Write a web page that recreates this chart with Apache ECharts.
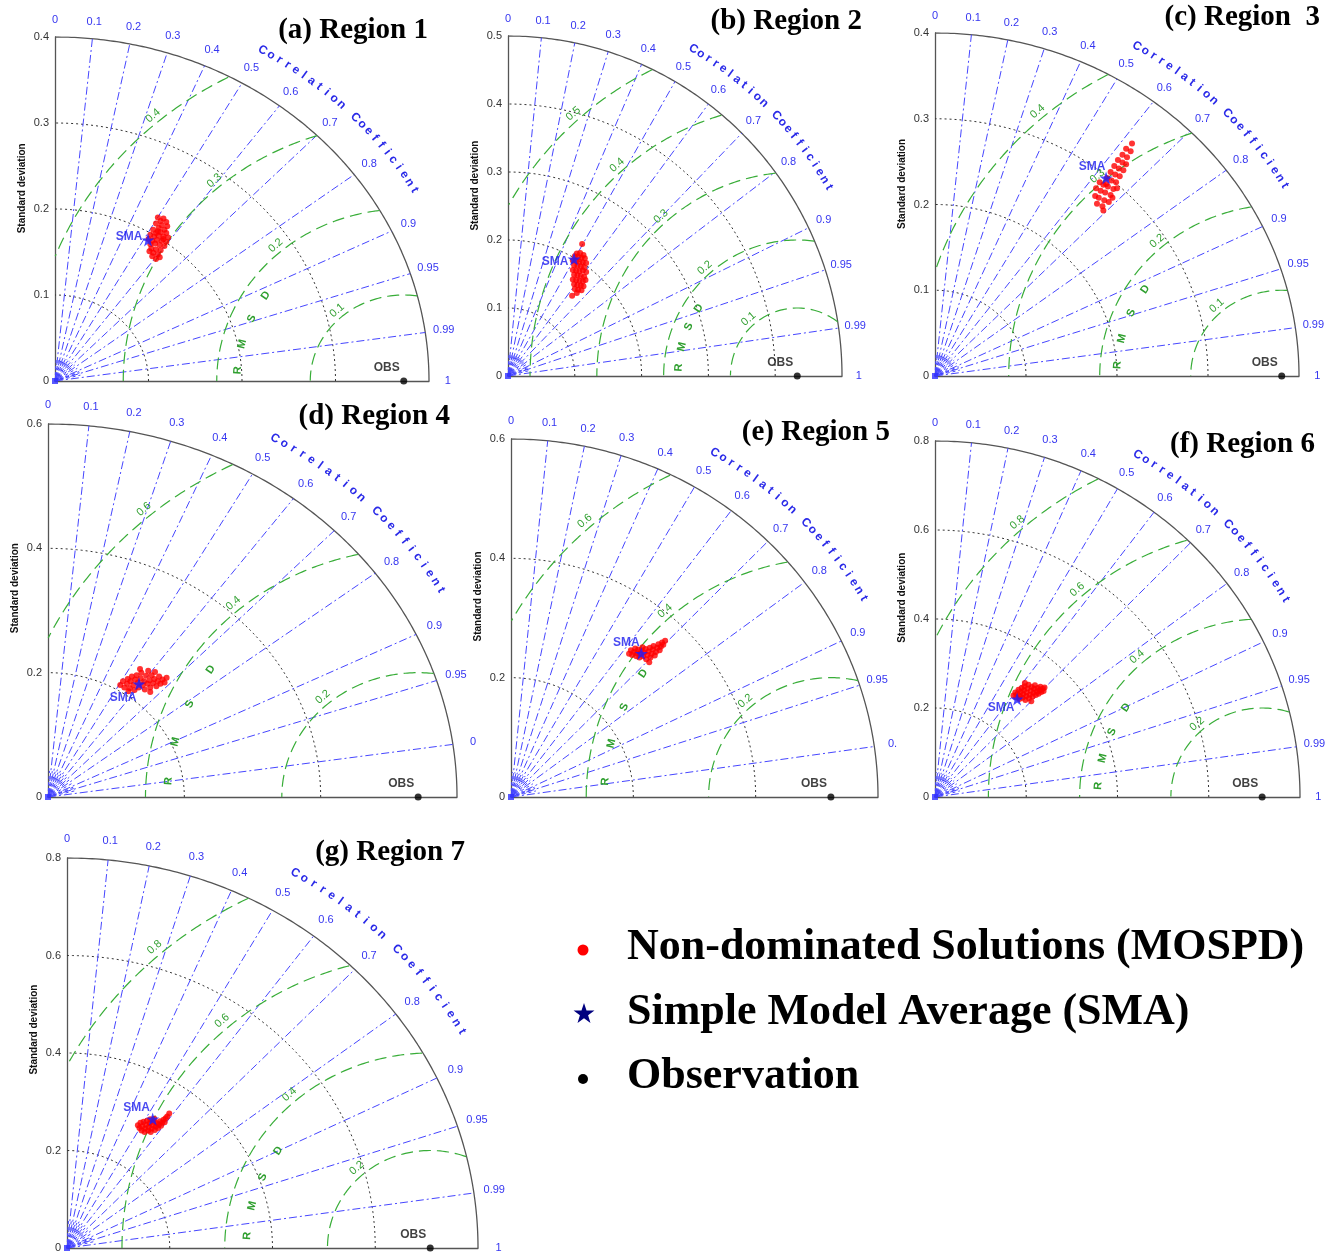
<!DOCTYPE html>
<html><head><meta charset="utf-8">
<script src="https://cdn.jsdelivr.net/npm/echarts@6/dist/echarts.min.js"></script>
<style>html,body{margin:0;padding:0;background:#fff}#c{width:1333px;height:1258px}</style>
</head><body><div id="c"></div><script>
// ---------------- DATA ----------------
const panelTitles = ['(a) Region 1', '(b) Region 2', '(c) Region  3', '(d) Region 4', '(e) Region 5', '(f) Region 6', '(g) Region 7'];
const stdMax = [0.4, 0.5, 0.4, 0.6, 0.6, 0.8, 0.8];
const stdInterval = [0.1, 0.1, 0.1, 0.2, 0.2, 0.2, 0.2];
const obsStd = [0.373, 0.433, 0.381, 0.543, 0.523, 0.717, 0.707];
const rmsLevels = [
  [0.1, 0.2, 0.3, 0.4], [0.1, 0.2, 0.3, 0.4, 0.5], [0.1, 0.2, 0.3, 0.4],
  [0.2, 0.4, 0.6], [0.2, 0.4, 0.6], [0.2, 0.4, 0.6, 0.8], [0.2, 0.4, 0.6, 0.8]
];
const corrTicks = [0, 0.1, 0.2, 0.3, 0.4, 0.5, 0.6, 0.7, 0.8, 0.9, 0.95, 0.99, 1];
const corrTickLabels = ['0', '0.1', '0.2', '0.3', '0.4', '0.5', '0.6', '0.7', '0.8', '0.9', '0.95', '0.99', '1'];
// labels partly cut off by the neighbouring panel in the original figure
const corrTickLabelsCut = { 3: { '0.99': '0', '1': '' }, 4: { '0.99': '0.', '1': '' } };
const corrMinorTicks = [0.05, 0.15, 0.25, 0.35, 0.45, 0.55, 0.65, 0.75, 0.85, 0.92, 0.94, 0.97];
// SMA point per region: [x, y] components in std-dev units
const smaPoints = [[0.0995, 0.164], [0.0988, 0.172], [0.188, 0.231], [0.1335, 0.182], [0.213, 0.2407], [0.18, 0.22], [0.1668, 0.2646]];
// Non-dominated solutions (MOSPD) per region: [x, y]
const mospdRegion1 = [[0.110,0.190],[0.116,0.189],[0.113,0.186],[0.119,0.185],[0.108,0.183],[0.114,0.181],[0.120,0.180],[0.111,0.178],[0.117,0.176],[0.105,0.176],[0.108,0.172],[0.113,0.173],[0.119,0.172],[0.102,0.170],[0.106,0.168],[0.111,0.169],[0.116,0.168],[0.121,0.167],[0.100,0.165],[0.104,0.163],[0.109,0.164],[0.114,0.163],[0.119,0.162],[0.102,0.159],[0.107,0.160],[0.112,0.158],[0.117,0.157],[0.103,0.154],[0.108,0.153],[0.113,0.152],[0.105,0.149],[0.110,0.147],[0.104,0.145],[0.108,0.142],[0.112,0.144],[0.101,0.151],[0.116,0.165],[0.110,0.174]];
const mospdRegion2 = [[0.111,0.194],[0.103,0.180],[0.108,0.181],[0.113,0.178],[0.100,0.176],[0.105,0.175],[0.110,0.174],[0.115,0.173],[0.097,0.170],[0.102,0.169],[0.107,0.168],[0.112,0.167],[0.117,0.166],[0.099,0.163],[0.104,0.162],[0.109,0.161],[0.114,0.160],[0.097,0.156],[0.102,0.155],[0.107,0.154],[0.112,0.155],[0.117,0.153],[0.099,0.149],[0.104,0.148],[0.109,0.147],[0.114,0.146],[0.097,0.142],[0.102,0.141],[0.107,0.140],[0.112,0.139],[0.116,0.141],[0.099,0.135],[0.104,0.134],[0.109,0.133],[0.113,0.132],[0.100,0.128],[0.105,0.127],[0.110,0.126],[0.103,0.122],[0.096,0.118]];
const mospdRegion3 = [[0.178,0.201],[0.184,0.198],[0.180,0.208],[0.186,0.205],[0.191,0.203],[0.182,0.216],[0.187,0.214],[0.193,0.211],[0.177,0.219],[0.185,0.223],[0.190,0.221],[0.196,0.218],[0.181,0.226],[0.189,0.231],[0.194,0.228],[0.199,0.226],[0.193,0.238],[0.198,0.235],[0.203,0.233],[0.197,0.245],[0.202,0.242],[0.207,0.240],[0.201,0.252],[0.206,0.249],[0.210,0.247],[0.206,0.258],[0.211,0.255],[0.210,0.265],[0.215,0.262],[0.2165,0.271],[0.176,0.210],[0.185,0.193],[0.195,0.208],[0.200,0.219],[0.188,0.224]];
const mospdRegion4 = [[0.106,0.180],[0.110,0.186],[0.112,0.176],[0.116,0.182],[0.117,0.190],[0.120,0.175],[0.121,0.186],[0.123,0.194],[0.125,0.180],[0.127,0.172],[0.128,0.189],[0.130,0.196],[0.132,0.184],[0.133,0.176],[0.136,0.191],[0.137,0.200],[0.139,0.180],[0.141,0.186],[0.142,0.173],[0.144,0.195],[0.146,0.182],[0.147,0.203],[0.149,0.188],[0.150,0.176],[0.152,0.196],[0.154,0.183],[0.156,0.190],[0.157,0.201],[0.159,0.178],[0.161,0.186],[0.163,0.194],[0.165,0.182],[0.168,0.189],[0.171,0.184],[0.174,0.192],[0.135,0.206],[0.118,0.170],[0.150,0.169]];
const mospdRegion5 = [[0.193,0.240],[0.196,0.246],[0.198,0.238],[0.201,0.243],[0.203,0.249],[0.205,0.236],[0.206,0.241],[0.208,0.247],[0.210,0.234],[0.211,0.240],[0.213,0.246],[0.215,0.251],[0.216,0.236],[0.218,0.242],[0.220,0.248],[0.221,0.231],[0.223,0.238],[0.225,0.244],[0.227,0.250],[0.228,0.234],[0.230,0.240],[0.232,0.247],[0.233,0.253],[0.235,0.237],[0.237,0.243],[0.239,0.250],[0.241,0.256],[0.243,0.246],[0.245,0.252],[0.247,0.259],[0.249,0.255],[0.252,0.262],[0.226,0.226]];
const mospdRegion6 = [[0.172,0.228],[0.176,0.235],[0.178,0.224],[0.181,0.231],[0.183,0.241],[0.185,0.220],[0.186,0.227],[0.188,0.236],[0.190,0.245],[0.192,0.223],[0.193,0.231],[0.195,0.240],[0.196,0.249],[0.198,0.218],[0.200,0.227],[0.201,0.235],[0.203,0.244],[0.205,0.252],[0.206,0.222],[0.208,0.230],[0.210,0.239],[0.212,0.247],[0.214,0.226],[0.216,0.234],[0.217,0.243],[0.219,0.251],[0.221,0.229],[0.223,0.237],[0.225,0.245],[0.227,0.232],[0.229,0.240],[0.231,0.248],[0.233,0.236],[0.236,0.243],[0.238,0.238],[0.240,0.246],[0.197,0.256],[0.211,0.215]];
const mospdRegion7 = [[0.138,0.252],[0.141,0.246],[0.143,0.257],[0.145,0.241],[0.147,0.250],[0.149,0.259],[0.151,0.238],[0.152,0.245],[0.154,0.253],[0.156,0.261],[0.158,0.241],[0.159,0.248],[0.161,0.256],[0.163,0.238],[0.165,0.245],[0.167,0.252],[0.169,0.259],[0.171,0.242],[0.173,0.249],[0.175,0.256],[0.177,0.246],[0.179,0.253],[0.181,0.260],[0.183,0.251],[0.185,0.257],[0.188,0.263],[0.190,0.258],[0.192,0.266],[0.195,0.270],[0.199,0.276],[0.170,0.265],[0.162,0.264]];
const mospdAll = [mospdRegion1, mospdRegion2, mospdRegion3, mospdRegion4, mospdRegion5, mospdRegion6, mospdRegion7];
const legendNames = ['Non-dominated Solutions (MOSPD)', 'Simple Model Average (SMA)', 'Observation'];

// ---------------- LAYOUT / STYLE ----------------
const panelLayout = [
  { ox: 55, oy: 381, w: 374, h: 344, titleRight: 428, titleY: 33 },
  { ox: 508, oy: 376, w: 334, h: 340, titleRight: 862, titleY: 24 },
  { ox: 935, oy: 376, w: 364, h: 343, titleRight: 1320, titleY: 20 },
  { ox: 48, oy: 797, w: 409, h: 373, titleRight: 450, titleY: 419 },
  { ox: 511, oy: 797, w: 367, h: 358, titleRight: 890, titleY: 435 },
  { ox: 935, oy: 797, w: 365, h: 356, titleRight: 1315, titleY: 447 },
  { ox: 67, oy: 1248, w: 411, h: 390, titleRight: 465, titleY: 855 }
];
const smaLabelOffset = [[-19, -3], [-19, 3], [-14, -11], [-16, 14], [-15, -11], [-16, 9], [-16, -11]];
const rmsdLetterRadius = [0.178, 0.178, 0.181, 0.367, 0.37, 0.36, 0.357];
const BLUE = '#4646ff', BLUE_TXT = '#3535f0', GREEN = '#38ad38', GREEN_TXT = '#2f9f2f';
const STAR = 'path://M50 0 L61.8 35.1 L98.1 35.1 L68.8 56.7 L79.4 90.9 L50 69.5 L20.6 90.9 L31.2 56.7 L1.9 35.1 L38.2 35.1 Z';
const SANS = '"Liberation Sans", Arial, sans-serif';
const SERIF = '"Liberation Serif", "Times New Roman", serif';

const chart = echarts.init(document.getElementById('c'), null, { renderer: 'canvas' });
const grids = [], xAxes = [], yAxes = [], series = [], titles = [];
const D2R = Math.PI / 180;

function addLine(i, pts, style) {
  series.push({ type: 'line', xAxisIndex: i, yAxisIndex: i, data: pts, symbol: 'none', showSymbol: false,
    silent: true, animation: false, clip: true, z: 2, lineStyle: style });
}

panelLayout.forEach((L, i) => {
  const R = stdMax[i], tick = stdInterval[i], obs = obsStd[i];
  grids.push({ left: L.ox, top: L.oy - L.h, width: L.w, height: L.h });
  xAxes.push({ gridIndex: i, type: 'value', min: 0, max: R, axisLine: { show: true, lineStyle: { color: '#555', width: 1.3 } },
    axisTick: { show: false }, axisLabel: { show: false }, splitLine: { show: false } });
  yAxes.push({ gridIndex: i, type: 'value', min: 0, max: R, interval: tick,
    axisLine: { show: true, lineStyle: { color: '#555', width: 1.3 } }, axisTick: { show: false }, splitLine: { show: false },
    axisLabel: { show: true, margin: 6, fontSize: 11, color: '#333', fontFamily: SANS, formatter: v => String(+v.toFixed(2)) } });
  titles.push({ text: panelTitles[i], right: 1333 - L.titleRight, top: L.titleY - 17, padding: 0,
    textStyle: { fontFamily: SERIF, fontWeight: 'bold', fontSize: 29, color: '#000' } });

  for (let k = 1; k * tick < R - 1e-9; k++) {
    const s = k * tick, pts = [];
    for (let a = 0; a <= 90; a++) pts.push([s * Math.cos(a * D2R), s * Math.sin(a * D2R)]);
    addLine(i, pts, { type: [2, 3], color: '#333', width: 1 });
  }
  { const pts = []; for (let a = 0; a <= 180; a++) pts.push([R * Math.cos(a * 0.5 * D2R), R * Math.sin(a * 0.5 * D2R)]);
    addLine(i, pts, { type: 'solid', color: '#555', width: 1.3 }); }
  corrTicks.forEach(c => {
    if (c <= 0 || c >= 1) return;
    const th = Math.acos(c);
    addLine(i, [[0, 0], [R * Math.cos(th), R * Math.sin(th)]], { type: [8, 3, 2, 3], color: BLUE, width: 1 });
  });
  corrMinorTicks.forEach(c => {
    const th = Math.acos(c), r = 0.07 * R;
    addLine(i, [[0, 0], [r * Math.cos(th), r * Math.sin(th)]], { type: [3, 3], color: BLUE, width: 1 });
  });
  rmsLevels[i].forEach(lv => {
    const pts = [];
    for (let k = 0; k <= 720; k++) {
      const ph = k * 0.25 * D2R, x = obs + lv * Math.cos(ph), y = lv * Math.sin(ph);
      if (x >= 0 && x * x + y * y <= R * R) pts.push([x, y]);
    }
    addLine(i, pts, { type: [12, 6], color: GREEN, width: 1.2 });
  });

  const items = [];
  const cut = corrTickLabelsCut[i] || {};
  corrTicks.forEach((c, k) => {
    const th = Math.acos(c), lab = corrTickLabels[k];
    const t = (lab in cut) ? cut[lab] : lab;
    if (!t) return;
    items.push({ x: 1.05 * R * Math.cos(th), y: 1.05 * R * Math.sin(th), t, c: BLUE_TXT, f: '11px ' + SANS });
  });
  const cc = 'Correlation Coefficient';
  for (let k = 0; k < cc.length; k++) {
    if (cc[k] === ' ') continue;
    const a = 60 - k * 1.364;
    items.push({ x: 1.11 * R * Math.cos(a * D2R), y: 1.11 * R * Math.sin(a * D2R), t: cc[k], rot: a - 90,
      c: '#2a2ae8', f: 'bold 12px ' + SANS });
  }
  rmsLevels[i].forEach(lv => {
    const ph = 131, d = lv + 0.022 * R;
    const x = obs + d * Math.cos(ph * D2R), y = d * Math.sin(ph * D2R);
    if (x > 0 && x * x + y * y < R * R) items.push({ x, y, t: String(lv), rot: ph - 90, c: GREEN_TXT, f: '11px ' + SANS });
  });
  ['R', 'M', 'S', 'D'].forEach((ch, k) => {
    const ph = 176 - k * 10, d = rmsdLetterRadius[i];
    items.push({ x: obs + d * Math.cos(ph * D2R), y: d * Math.sin(ph * D2R), t: ch, rot: ph - 90, c: GREEN_TXT, f: 'bold 11px ' + SANS });
  });
  items.push({ x: -(33 / L.w) * R, y: 0.56 * R, t: 'Standard deviation', rot: 90, c: '#111', f: 'bold 10px ' + SANS });
  series.push({ type: 'custom', xAxisIndex: i, yAxisIndex: i, silent: true, animation: false, z: 4, clip: false,
    data: items.map(it => [it.x, it.y]), encode: { x: 0, y: 1 },
    renderItem: (params, api) => {
      const it = items[params.dataIndex];
      const p = api.coord([api.value(0), api.value(1)]);
      return { type: 'text', x: p[0], y: p[1], rotation: (it.rot || 0) * D2R,
        style: { text: it.t, fill: it.c, font: it.f, align: 'center', verticalAlign: 'middle' } };
    } });

  series.push({ type: 'scatter', name: legendNames[0], xAxisIndex: i, yAxisIndex: i, data: mospdAll[i], symbol: 'circle',
    symbolSize: 6, itemStyle: { color: '#ff0000' }, silent: true, animation: false, z: 5 });
  series.push({ type: 'scatter', name: legendNames[1], xAxisIndex: i, yAxisIndex: i, data: [smaPoints[i]], symbol: STAR,
    symbolSize: 13, itemStyle: { color: '#1a1aff' }, silent: true, animation: false, z: 6,
    label: { show: true, position: 'inside', offset: smaLabelOffset[i], formatter: 'SMA', color: '#1a1aee',
      fontWeight: 'bold', fontSize: 12, fontFamily: SANS } });
  series.push({ type: 'scatter', name: legendNames[2], xAxisIndex: i, yAxisIndex: i, data: [[obs, 0]], symbol: 'circle',
    symbolSize: 7, itemStyle: { color: '#000' }, silent: true, animation: false, z: 6, clip: false,
    label: { show: true, position: 'inside', offset: [-17, -13], formatter: 'OBS', color: '#111',
      fontWeight: 'bold', fontSize: 12, fontFamily: SANS } });
  series.push({ type: 'scatter', xAxisIndex: i, yAxisIndex: i, data: [[0, 0]], symbol: 'rect', symbolSize: 6,
    itemStyle: { color: '#3030ff' }, silent: true, animation: false, z: 6, clip: false });
});

// legend drawn with graphic elements
const legendRows = [948, 1013, 1077];
function starPoints(cx, cy, ro, ri) {
  const p = [];
  for (let k = 0; k < 10; k++) {
    const r = k % 2 === 0 ? ro : ri, a = (-90 + k * 36) * D2R;
    p.push([cx + r * Math.cos(a), cy + r * Math.sin(a)]);
  }
  return p;
}
const graphic = [
  { type: 'circle', shape: { cx: 583, cy: legendRows[0] + 2, r: 5.5 }, style: { fill: '#ff0000' } },
  { type: 'polygon', shape: { points: starPoints(584, legendRows[1] + 1, 11, 4.3) }, style: { fill: '#00007f' } },
  { type: 'circle', shape: { cx: 583, cy: legendRows[2] + 2, r: 5 }, style: { fill: '#000' } }
];
legendNames.forEach((n, k) => graphic.push({ type: 'text', x: 627, y: legendRows[k],
  style: { text: n, fill: '#000', font: 'bold 44px ' + SERIF, align: 'left', verticalAlign: 'middle' } }));

chart.setOption({ animation: false, backgroundColor: '#fff', title: titles, grid: grids, xAxis: xAxes, yAxis: yAxes,
  series, graphic });
</script></body></html>
